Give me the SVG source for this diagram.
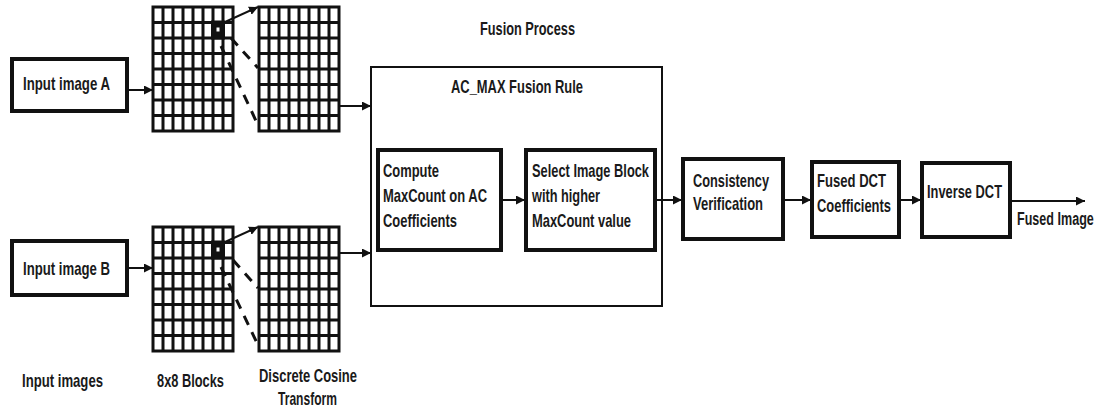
<svg xmlns="http://www.w3.org/2000/svg" width="1103" height="408" viewBox="0 0 1103 408">
  <style>
    .t { font-family: "Liberation Sans", Arial, sans-serif; font-weight: bold; font-size: 18.5px; fill: #1a1a1a; }
    .box { fill: #fff; stroke: #111; stroke-width: 4; }
    .thin { fill: #fff; stroke: #111; stroke-width: 2; }
    .wire { fill: none; stroke: #111; stroke-width: 2; }
    .dash { fill: none; stroke: #111; stroke-width: 3; stroke-dasharray: 10 8; }
    .gridline { stroke: #111; stroke-width: 3; }
  </style>
  <defs>
    <marker id="ah" viewBox="0 0 10 10" refX="10" refY="5" markerWidth="9" markerHeight="9" markerUnits="userSpaceOnUse" orient="auto">
      <path d="M0,0 L10,5 L0,10 Z" fill="#111"/>
    </marker>
    <!-- 8x8 block grid, 80 x 124 -->
    <g id="grid">
      <rect x="0" y="0" width="80" height="124" fill="#fff" stroke="#111" stroke-width="3"/>
      <path class="gridline" d="M10,0V124M20,0V124M30,0V124M40,0V124M50,0V124M60,0V124M70,0V124
        M0,15.5H80M0,31H80M0,46.5H80M0,62H80M0,77.5H80M0,93H80M0,108.5H80"/>
    </g>
    <!-- highlighted block: dark cell with a small light centre -->
    <g id="pick">
      <rect x="-2" y="-2" width="14" height="19" fill="#111"/>
      <rect x="3.5" y="5" width="3" height="4" fill="#fff"/>
    </g>
  </defs>

  <rect width="1103" height="408" fill="#fff"/>

  <!-- Titles and captions -->
  <text class="t" x="480" y="35" textLength="95" lengthAdjust="spacingAndGlyphs">Fusion Process</text>
  <text class="t" x="22" y="387" textLength="81" lengthAdjust="spacingAndGlyphs">Input images</text>
  <text class="t" x="157" y="387" textLength="67" lengthAdjust="spacingAndGlyphs">8x8 Blocks</text>
  <text class="t" x="259" y="382" textLength="98" lengthAdjust="spacingAndGlyphs">Discrete Cosine</text>
  <text class="t" x="278" y="405" textLength="59" lengthAdjust="spacingAndGlyphs">Transform</text>

  <!-- Input images -->
  <g id="inputA">
    <rect class="box" x="12" y="59" width="115" height="52"/>
    <text class="t" x="23" y="90" font-size="20" textLength="87" lengthAdjust="spacingAndGlyphs">Input image A</text>
  </g>
  <g id="inputB">
    <rect class="box" x="12" y="241" width="115" height="54"/>
    <text class="t" x="23" y="275" font-size="20" textLength="87" lengthAdjust="spacingAndGlyphs">Input image B</text>
  </g>

  <!-- Block grids and DCT grids -->
  <g id="blocksA">
    <use href="#grid" x="153" y="7"/>
    <use href="#pick" x="213" y="22.5"/>
  </g>
  <g id="dctA">
    <use href="#grid" x="259" y="7"/>
  </g>
  <g id="blocksB">
    <use href="#grid" x="153" y="227"/>
    <use href="#pick" x="213" y="242.5"/>
  </g>
  <g id="dctB">
    <use href="#grid" x="259" y="227"/>
  </g>

  <!-- Fusion rule container -->
  <g id="fusionRule">
    <rect class="thin" x="371" y="67" width="291" height="239"/>
    <text class="t" x="451" y="93" textLength="132" lengthAdjust="spacingAndGlyphs">AC_MAX Fusion Rule</text>
  </g>
  <g id="compute">
    <rect class="box" x="378" y="150" width="123" height="100"/>
    <text class="t" x="383" y="177" textLength="56" lengthAdjust="spacingAndGlyphs">Compute</text>
    <text class="t" x="383" y="202" textLength="104" lengthAdjust="spacingAndGlyphs">MaxCount on AC</text>
    <text class="t" x="383" y="227" textLength="74" lengthAdjust="spacingAndGlyphs">Coefficients</text>
  </g>
  <g id="select">
    <rect class="box" x="526" y="150" width="129" height="100"/>
    <text class="t" x="532" y="177" textLength="117" lengthAdjust="spacingAndGlyphs">Select Image Block</text>
    <text class="t" x="532" y="202" textLength="68" lengthAdjust="spacingAndGlyphs">with higher</text>
    <text class="t" x="532" y="227" textLength="99" lengthAdjust="spacingAndGlyphs">MaxCount value</text>
  </g>
  <g id="consistency">
    <rect class="box" x="683" y="159" width="100" height="80"/>
    <text class="t" x="693" y="187" textLength="76" lengthAdjust="spacingAndGlyphs">Consistency</text>
    <text class="t" x="693" y="210" textLength="70" lengthAdjust="spacingAndGlyphs">Verification</text>
  </g>
  <g id="fusedDct">
    <rect class="box" x="812" y="162" width="87" height="75"/>
    <text class="t" x="817" y="187" textLength="69" lengthAdjust="spacingAndGlyphs">Fused DCT</text>
    <text class="t" x="817" y="212" textLength="74" lengthAdjust="spacingAndGlyphs">Coefficients</text>
  </g>
  <g id="inverseDct">
    <rect class="box" x="922" y="163" width="88" height="74"/>
    <text class="t" x="927" y="198" textLength="75" lengthAdjust="spacingAndGlyphs">Inverse DCT</text>
  </g>
  <g id="fusedImage">
    <!-- narrowed horizontally so the label fits at the right margin -->
    <text class="t" transform="translate(1017,225) scale(0.68,1)">Fused Image</text>
  </g>

  <!-- Connectors -->
  <g id="connectors">
    <path class="wire" d="M129,90H153" marker-end="url(#ah)"/>
    <path class="wire" d="M129,268H153" marker-end="url(#ah)"/>
    <path class="wire" d="M225,22L258,7" marker-end="url(#ah)"/>
    <path class="wire" d="M225,242L258,227" marker-end="url(#ah)"/>
    <path class="dash" d="M231,38L258,68"/>
    <path class="dash" d="M221,46L257,123"/>
    <path class="dash" d="M233,260L258,288"/>
    <path class="dash" d="M221,267L257,343"/>
    <path class="wire" d="M339,106H371" marker-end="url(#ah)"/>
    <path class="wire" d="M339,253H371" marker-end="url(#ah)"/>
    <path class="wire" d="M503,200H525" marker-end="url(#ah)"/>
    <path class="wire" d="M657,200H682" marker-end="url(#ah)"/>
    <path class="wire" d="M785,200H811" marker-end="url(#ah)"/>
    <path class="wire" d="M901,200H921" marker-end="url(#ah)"/>
    <path class="wire" d="M1012,201H1085" marker-end="url(#ah)"/>
  </g>
</svg>
